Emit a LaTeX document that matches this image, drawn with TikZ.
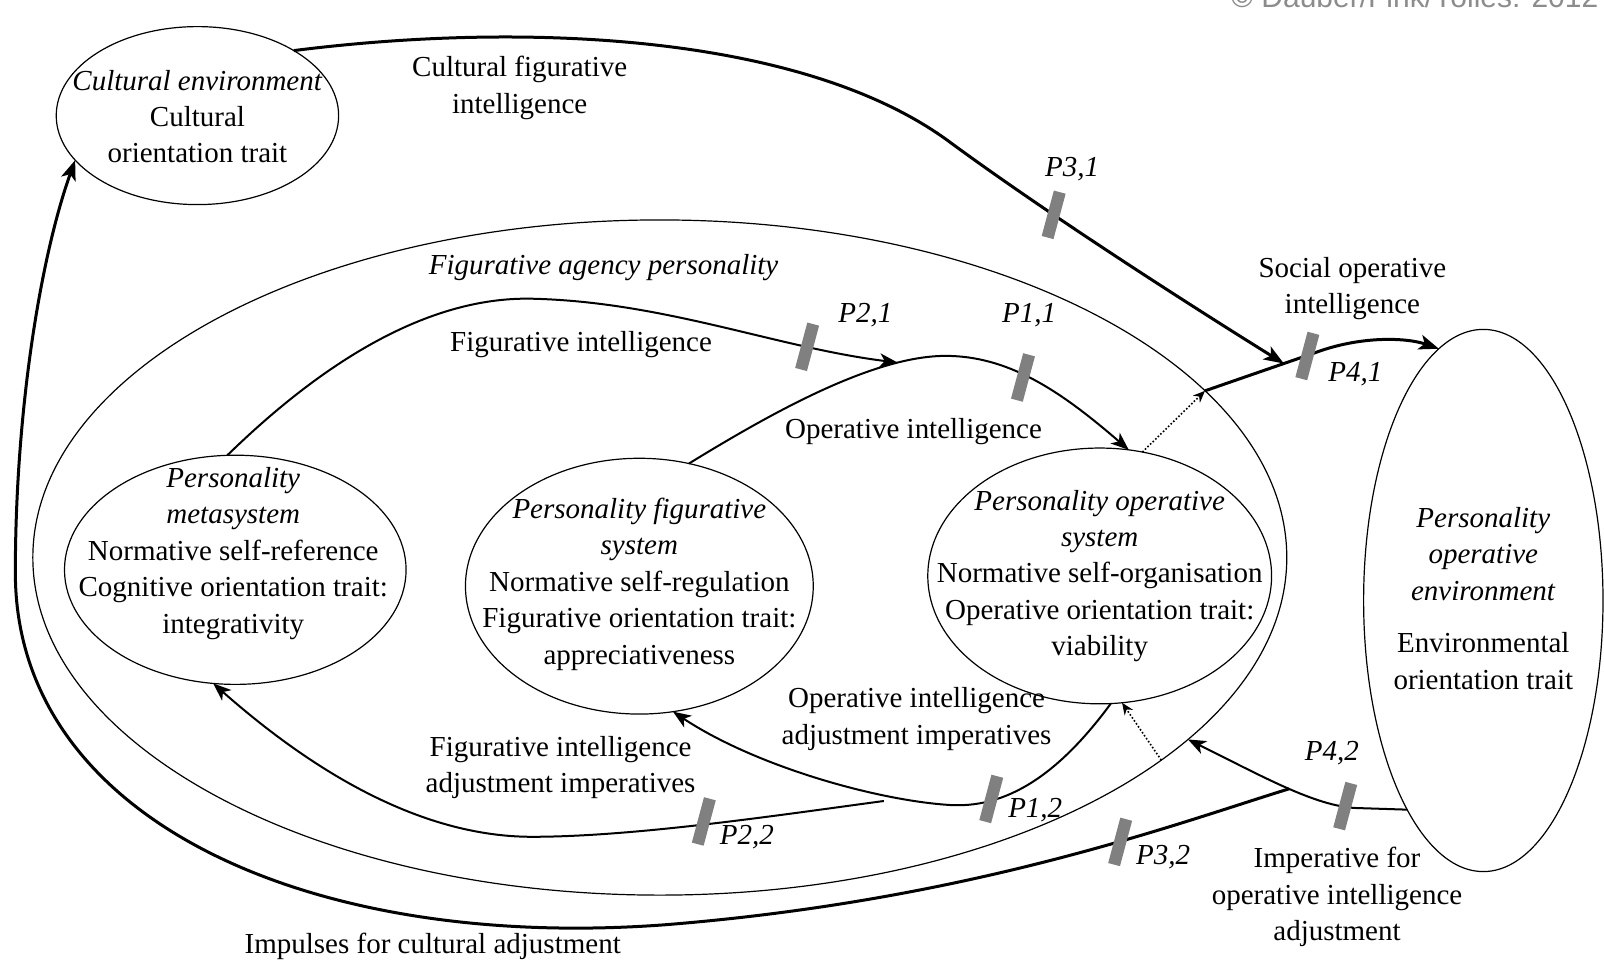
\documentclass[tikz,border=0pt]{standalone}
\usepackage{fontspec}
\setmainfont{Liberation Serif}
\newfontfamily\copyfont{Liberation Sans}
\usetikzlibrary{arrows.meta,shapes.geometric}
\definecolor{markgray}{RGB}{128,128,128}
\definecolor{copygray}{RGB}{140,140,140}
\begin{document}
\begin{tikzpicture}[x=0.5115pt,y=-0.5115pt,
  every node/.style={font=\fontsize{14.5}{18.2}\selectfont},
  ell/.style={draw, ellipse, line width=0.6pt, inner sep=0pt, outer sep=0pt},
  txt/.style={align=center, inner sep=0pt},
  lbl/.style={font=\fontsize{14.5}{18.2}\selectfont\itshape, inner sep=0pt},
  marker/.style={fill=markgray, minimum width=6.1pt, minimum height=23.5pt, inner sep=0pt, outer sep=0pt, rotate=-15},
  arr/.style={line width=1pt, -{Stealth[length=9pt,width=7pt,inset=2.5pt]}},
  tarr/.style={line width=1.5pt, -{Stealth[length=10pt,width=7.5pt,inset=2.5pt]}},
  dotarr/.style={line width=0.8pt, densely dotted, -{Stealth[length=6pt,width=5pt]}},
]
\useasboundingbox (0,0) rectangle (1568,941);

% copyright
\node[anchor=base west, font=\copyfont\fontsize{15}{18}\selectfont, text=copygray, inner sep=0pt] (copy) at (1203,7) {© Dauber/Fink/Yolles: 2012};

% ellipses
\node[ell, minimum width=627.0pt, minimum height=337.6pt] (fap) at (645,545) {};
\node[ell, minimum width=141.2pt, minimum height=89pt] (cult) at (193,113) {};
\node[ell, minimum width=170.8pt, minimum height=114.6pt] (meta) at (230,557) {};
\node[ell, minimum width=173.9pt, minimum height=127.9pt] (fig) at (625,573) {};
\node[ell, minimum width=171.9pt, minimum height=127.9pt] (ops) at (1075,563) {};
\node[ell, minimum width=119.7pt, minimum height=271.1pt] (env) at (1450,587) {};

% ellipse texts
\node[txt] (cultT) at (193,114) {\textit{Cultural environment}\\Cultural\\orientation trait};
\node[txt] (metaT) at (228,541) {\textit{Personality}\\\textit{metasystem}\\Normative self-reference\\Cognitive orientation trait:\\integrativity};
\node[txt] (figT) at (625,571) {\textit{Personality figurative}\\\textit{system}\\Normative self-regulation\\Figurative orientation trait:\\appreciativeness};
\node[txt] (opsT) at (1075,563) {\textit{Personality operative}\\\textit{system}\\Normative self-organisation\\Operative orientation trait:\\viability};
\node[txt] (envT) at (1450,585) {\textit{Personality}\\\textit{operative}\\\textit{environment}\\[8pt]Environmental\\orientation trait};
\node[lbl] (fapT) at (590,262) {Figurative agency personality};

% social operative intelligence
\draw[tarr] (fap.17) -- (1285,345) coordinate[pos=0.72] (j1) .. controls (1330,328) and (1375,330) .. (env.100);
% cultural figurative intelligence
\draw[tarr] (cult.34) .. controls (520,20) and (790,35) .. (930,140) .. controls (1020,206) and (1150,290) .. (j1);
% operative intelligence
\draw[arr] (fig.68) .. controls (760,400) and (860,345) .. (930,348) coordinate[pos=0.77] (j2) .. controls (990,350) and (1040,385) .. (ops.77);
% figurative intelligence
\draw[arr] (meta.94) .. controls (330,340) and (430,290) .. (520,292) .. controls (650,295) and (760,340) .. (j2);
% operative intelligence adjustment imperatives
\draw[arr] (ops.-85) .. controls (1040,750) and (990,790) .. (930,787) .. controls (860,783) and (740,750) .. (fig.-75);
% figurative intelligence adjustment imperatives
\coordinate (f0) at (864,783);
\draw[arr] (f0) .. controls (760,797) and (620,818) .. (520,818) .. controls (400,818) and (290,740) .. (meta.-101);
% imperative for operative intelligence adjustment
\draw[arr] (env.-110) -- (1330,790) .. controls (1290,790) and (1240,762) .. (fap.-19) coordinate[pos=0.5] (j3);
% impulses for cultural adjustment
\draw[tarr] (j3) .. controls (1150,805) and (950,880) .. (650,904) .. controls (300,930) and (15,800) .. (15,560) .. controls (15,400) and (40,250) .. (cult.-160);
% dotted
\draw[dotarr] (ops.71) -- (fap.17);
\draw[dotarr] (fap.-22) -- (ops.-80);

% markers
\node[marker] (m31) at (1030,210) {};
\node[marker] (m21) at (789,339) {};
\node[marker] (m11) at (1000,369) {};
\node[marker] (m41) at (1278,348) {};
\node[marker] (m12) at (969,781) {};
\node[marker] (m22) at (688,803) {};
\node[marker] (m32) at (1095,823) {};
\node[marker] (m42) at (1315,788) {};

% P labels
\node[lbl] (l31) at (1048,165) {P3,1};
\node[lbl] (l21) at (846,308) {P2,1};
\node[lbl] (l11) at (1006,308) {P1,1};
\node[lbl] (l41) at (1325,366) {P4,1};
\node[lbl] (l12) at (1012,792) {P1,2};
\node[lbl] (l22) at (730,818) {P2,2};
\node[lbl] (l32) at (1137,838) {P3,2};
\node[lbl] (l42) at (1302,736) {P4,2};

% connector labels
\node[txt] (tcfi) at (508,86) {Cultural figurative\\intelligence};
\node[txt] (tsoi) at (1322,282) {Social operative\\intelligence};
\node[txt] (tfi) at (568,337) {Figurative intelligence};
\node[txt] (toi) at (893,422) {Operative intelligence};
\node[txt] (toiai) at (896,703) {Operative intelligence\\adjustment imperatives};
\node[txt] (tfiai) at (548,750) {Figurative intelligence\\adjustment imperatives};
\node[txt] (tioia) at (1307,877) {Imperative for\\operative intelligence\\adjustment};
\node[txt] (tica) at (423,925) {Impulses for cultural adjustment};
\end{tikzpicture}
\end{document}
